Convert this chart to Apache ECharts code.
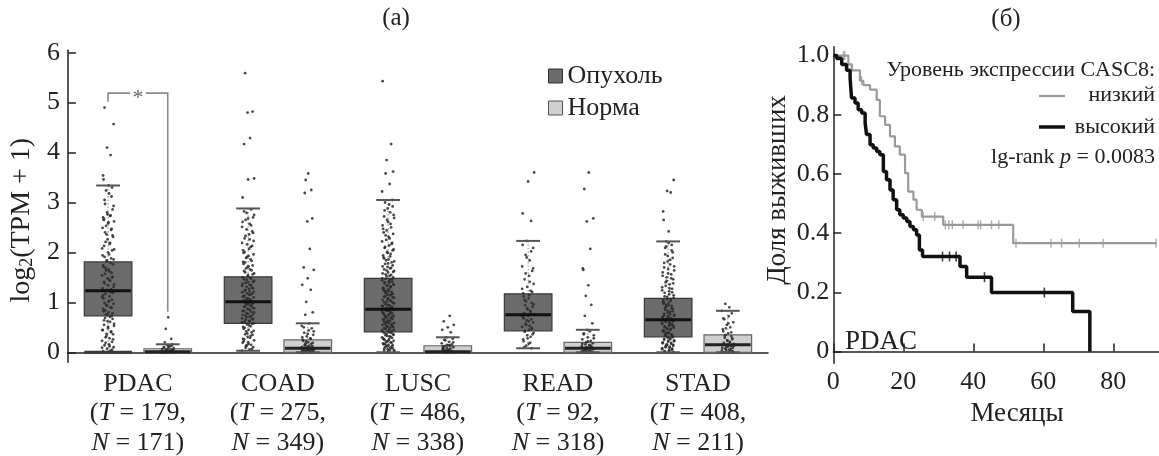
<!DOCTYPE html>
<html><head><meta charset="utf-8">
<script src="https://cdn.jsdelivr.net/npm/echarts@6/dist/echarts.min.js"></script>
<style>html,body{margin:0;padding:0;background:#fff}#c{width:1159px;height:456px}</style>
</head><body><div id="c"></div><script>
const FONT = "'Liberation Serif','Times New Roman',serif";

// ---- panel (a): expression box plots ----
const categories = ['PDAC', 'COAD', 'LUSC', 'READ', 'STAD'];
const tumorCounts = [179, 275, 486, 92, 408];
const normalCounts = [171, 349, 338, 318, 211];
// [lower whisker, Q1, median, Q3, upper whisker]
const tumorBoxes = [
  [0, 0.73, 1.23, 1.81, 3.34],
  [0.03, 0.58, 1.01, 1.51, 2.88],
  [0, 0.41, 0.86, 1.48, 3.05],
  [0.08, 0.43, 0.75, 1.17, 2.23],
  [0, 0.31, 0.65, 1.08, 2.22]
];
const normalBoxes = [
  [0, 0, 0.01, 0.07, 0.16],
  [0, 0, 0.08, 0.25, 0.58],
  [0, 0, 0.01, 0.13, 0.30],
  [0, 0, 0.08, 0.20, 0.45],
  [0, 0, 0.15, 0.35, 0.83]
];
// individual samples
const pdacTumor = [0.02,0.03,0.07,0.1,0.14,0.16,0.21,0.23,0.28,0.3,0.36,0.37,0.42,0.45,0.48,0.53,0.55,0.61,0.62,0.67,0.69,0.73,0.76,0.8,0.82,0.87,0.9,0.93,0.97,0.99,1.03,1.05,1.1,1.12,1.17,1.19,1.23,1.26,1.28,1.34,1.36,1.41,1.43,1.48,1.51,1.57,1.59,1.64,1.66,1.71,1.74,1.79,1.82,1.86,1.91,1.96,2.04,2.08,2.17,2.21,2.31,2.36,2.45,2.49,2.58,2.62,2.67,2.73,2.76,2.86,2.97,3.12,3.24,3.34,3.46,3.54,3.95,4.1,4.57,4.9,
  0.01,0.05,0.09,0.12,0.19,0.26,0.33,0.4,0.44,0.51,0.57,0.64,0.71,0.75,0.78,0.84,0.89,0.95,1.01,1.08,1.14,1.2,1.25,1.31,1.38,1.45,1.5,1.54,1.62,1.69,1.76,1.84,1.88,1.94,2.0,2.06,2.13,2.19,2.26,2.34,2.4,2.47,2.53,2.6,2.65,2.7,2.74,2.8,2.93,3.05,3.18,3.3];
const coadTumor = [0.03,0.05,0.09,0.1,0.14,0.15,0.19,0.2,0.24,0.26,0.29,0.31,0.35,0.36,0.4,0.42,0.45,0.47,0.51,0.52,0.56,0.58,0.61,0.63,0.66,0.68,0.71,0.73,0.76,0.78,0.81,0.83,0.86,0.88,0.91,0.93,0.96,0.98,1.0,1.02,1.06,1.07,1.11,1.12,1.16,1.18,1.21,1.23,1.27,1.29,1.33,1.35,1.39,1.41,1.45,1.47,1.5,1.55,1.58,1.63,1.66,1.71,1.74,1.8,1.83,1.89,1.93,1.99,2.04,2.11,2.16,2.23,2.28,2.36,2.42,2.51,2.57,2.65,2.7,2.79,2.86,3.1,3.46,3.48,4.17,4.29,4.8,4.82,5.59,
  0.06,0.12,0.17,0.22,0.27,0.33,0.38,0.43,0.49,0.54,0.57,0.6,0.62,0.65,0.67,0.7,0.72,0.75,0.77,0.8,0.82,0.85,0.87,0.9,0.92,0.95,0.97,0.99,1.01,1.03,1.05,1.08,1.1,1.13,1.15,1.17,1.2,1.22,1.25,1.28,1.31,1.34,1.37,1.4,1.43,1.46,1.49,1.52,1.56,1.6,1.64,1.68,1.72,1.77,1.81,1.86,1.91,1.96,2.01,2.07,2.13,2.19,2.26,2.33,2.39,2.46,2.54,2.61,2.68,2.75,2.82];
const luscTumor = [0,0.01,0.03,0.05,0.06,0.08,0.1,0.11,0.13,0.15,0.16,0.18,0.2,0.22,0.23,0.25,0.27,0.29,0.3,0.32,0.34,0.36,0.37,0.39,0.41,0.43,0.45,0.48,0.49,0.51,0.53,0.56,0.57,0.6,0.62,0.65,0.66,0.68,0.7,0.73,0.74,0.76,0.78,0.81,0.82,0.84,0.86,0.89,0.9,0.92,0.95,0.98,1.0,1.04,1.06,1.1,1.12,1.16,1.18,1.22,1.24,1.28,1.3,1.34,1.36,1.4,1.42,1.46,1.48,1.53,1.56,1.61,1.64,1.69,1.72,1.78,1.82,1.88,1.92,1.99,2.04,2.11,2.17,2.25,2.31,2.4,2.47,2.57,2.65,2.75,2.84,2.96,3.05,3.22,3.37,3.58,3.62,3.85,4.17,5.43,
  0.02,0.04,0.07,0.09,0.12,0.14,0.17,0.19,0.21,0.24,0.26,0.28,0.31,0.33,0.35,0.38,0.4,0.42,0.44,0.46,0.47,0.5,0.52,0.54,0.55,0.58,0.59,0.61,0.63,0.64,0.67,0.69,0.71,0.72,0.75,0.77,0.79,0.8,0.83,0.85,0.87,0.88,0.91,0.93,0.94,0.96,0.99,1.01,1.02,1.05,1.08,1.09,1.11,1.14,1.15,1.17,1.2,1.21,1.23,1.26,1.27,1.29,1.32,1.33,1.35,1.38,1.39,1.41,1.44,1.45,1.47,1.5,1.52,1.55,1.58,1.6,1.63,1.66,1.68,1.71,1.74,1.77,1.8,1.84,1.86,1.9,1.94,1.97,2.01,2.06,2.09,2.14,2.19,2.22,2.28,2.34,2.37,2.44,2.5,2.54,2.61,2.69,2.72,2.8,2.88,2.92,3.0];
const readTumor = [0.08,0.13,0.17,0.22,0.26,0.31,0.34,0.39,0.41,0.45,0.47,0.51,0.53,0.57,0.6,0.64,0.66,0.71,0.73,0.76,0.78,0.83,0.86,0.91,0.94,0.99,1.02,1.08,1.12,1.18,1.23,1.31,1.37,1.46,1.53,1.63,1.72,1.84,1.95,2.09,2.23,2.63,2.78,3.42,3.6,
  0.1,0.19,0.28,0.36,0.43,0.49,0.55,0.62,0.68,0.74,0.8,0.88,0.96,1.05,1.14,1.21,1.27,1.41,1.58,1.68,1.9,2.02,2.15];
const stadTumor = [0,0.02,0.04,0.07,0.08,0.11,0.12,0.15,0.16,0.19,0.2,0.23,0.24,0.27,0.28,0.31,0.32,0.35,0.36,0.39,0.4,0.43,0.44,0.47,0.48,0.51,0.52,0.55,0.56,0.59,0.6,0.63,0.64,0.67,0.68,0.71,0.72,0.75,0.77,0.81,0.83,0.87,0.89,0.93,0.95,0.99,1.01,1.05,1.07,1.11,1.14,1.19,1.22,1.27,1.3,1.36,1.4,1.46,1.5,1.56,1.6,1.67,1.72,1.79,1.85,1.93,2.0,2.09,2.15,2.22,2.42,2.65,2.82,3.2,3.23,3.45,
  0.01,0.03,0.05,0.06,0.09,0.1,0.13,0.14,0.17,0.18,0.21,0.22,0.25,0.26,0.29,0.3,0.33,0.34,0.37,0.38,0.41,0.42,0.45,0.46,0.49,0.5,0.53,0.54,0.57,0.58,0.61,0.62,0.65,0.66,0.69,0.7,0.73,0.74,0.76,0.79,0.82,0.85,0.88,0.91,0.94,0.97,1.0,1.03,1.06,1.09,1.12,1.16,1.2,1.24,1.28,1.33,1.38,1.43,1.48,1.53,1.58,1.64,1.7,1.76,1.82,1.89,1.96,2.04,2.12,2.19];
const pdacNormal = [0,0,0,0,0,0,0.01,0.01,0.02,0.02,0.03,0.04,0.05,0.06,0.07,0.08,0.1,0.12,0.14,0.16,0.2,0.27,0.47,0.7,0,0,0.01,0.03,0.05,0.09,0.11,0.13];
const coadNormal = [0,0,0,0.01,0.02,0.03,0.04,0.05,0.06,0.08,0.09,0.11,0.12,0.14,0.17,0.18,0.2,0.23,0.25,0.28,0.32,0.35,0.39,0.44,0.48,0.53,0.58,0.75,0.8,1.01,1.25,1.35,1.48,1.65,1.7,2.07,2.62,2.68,3.19,3.25,3.45,3.58,
  0,0,0.01,0.02,0.03,0.04,0.05,0.07,0.1,0.13,0.15,0.19,0.22,0.27,0.3,0.37,0.42,0.5];
const luscNormal = [0,0,0,0,0,0.01,0.01,0.02,0.03,0.04,0.05,0.06,0.07,0.09,0.1,0.12,0.14,0.16,0.18,0.21,0.24,0.27,0.3,0.4,0.45,0.5,0.55,0.62,0.73,0,0,0.01,0.02,0.03,0.05,0.08,0.11,0.13,0.15,0.2,0.25];
const readNormal = [0,0,0,0.01,0.02,0.03,0.05,0.06,0.08,0.09,0.1,0.12,0.14,0.16,0.18,0.2,0.23,0.26,0.3,0.34,0.38,0.42,0.45,0.58,0.73,0.95,1.13,1.34,1.65,1.68,2.07,2.62,2.68,3.27,3.6,0,0.01,0.02,0.04,0.07,0.1,0.13,0.17,0.22,0.28,0.36];
const stadNormal = [0,0,0,0.02,0.03,0.05,0.07,0.09,0.1,0.12,0.14,0.15,0.17,0.19,0.21,0.23,0.26,0.29,0.32,0.35,0.38,0.42,0.46,0.5,0.55,0.6,0.66,0.72,0.78,0.83,0.9,0.97,0.01,0.04,0.06,0.08,0.11,0.13,0.16,0.2,0.24,0.28,0.33,0.4,0.48,0.58,0.68];
const tumorPoints = [pdacTumor, coadTumor, luscTumor, readTumor, stadTumor];
const normalPoints = [pdacNormal, coadNormal, luscNormal, readNormal, stadNormal];
// significance bracket for PDAC: [tumor leg top, bracket level, normal leg bottom]
const sigBracket = [5.02, 5.19, 0.81];
const exprTicks = [0, 1, 2, 3, 4, 5, 6];

// ---- panel (б): Kaplan-Meier ----
const lowT = [0, 4.3, 5.3, 7.6, 8.6, 10.5, 12.4, 13.3, 14.8, 16.2, 17.6, 19.0, 20.5, 21.4, 22.9, 23.8, 25.3, 31.4, 51.4, 92.4];
const lowS = [1.0, 0.97, 0.95, 0.915, 0.90, 0.885, 0.85, 0.795, 0.766, 0.727, 0.693, 0.665, 0.603, 0.54, 0.513, 0.479, 0.456, 0.428, 0.366, 0.366];
const lowCensT = [2.9, 3.3, 8.1, 25.7, 29.0, 32.0, 33.0, 34.0, 37.1, 41.4, 42.1, 45.2, 47.3, 52.2, 62.2, 65.2, 70.3, 77.1, 92.2];
const lowCensS = [1.0, 1.0, 0.915, 0.456, 0.456, 0.428, 0.428, 0.428, 0.428, 0.428, 0.428, 0.428, 0.428, 0.366, 0.366, 0.366, 0.366, 0.366, 0.366];
const highT = [0, 1.0, 2.4, 3.8, 4.8, 5.2, 6.2, 7.1, 8.1, 9.1, 9.5, 10.5, 11.4, 12.4, 13.3, 14.3, 15.2, 16.2, 17.1, 18.1, 19.0, 20.0, 21.0, 21.9, 22.9, 23.8, 24.6, 25.5, 36.2, 38.1, 45.2, 68.4, 73.3];
const highS = [1.0, 0.99, 0.97, 0.95, 0.925, 0.857, 0.84, 0.817, 0.806, 0.772, 0.733, 0.699, 0.688, 0.676, 0.665, 0.608, 0.58, 0.546, 0.513, 0.479, 0.462, 0.451, 0.439, 0.422, 0.411, 0.394, 0.343, 0.321, 0.287, 0.251, 0.199, 0.135, 0.0];
const highCensT = [31.2, 33.2, 35.1, 43.2, 60.3];
const highCensS = [0.321, 0.321, 0.321, 0.251, 0.199];
const kmXTicks = [0, 20, 40, 60, 80];
const kmYTicks = [0, 0.2, 0.4, 0.6, 0.8, 1.0];
const kmYLabels = ['0', '0.2', '0.4', '0.6', '0.8', '1.0'];

// ---- style constants ----
const OFFSET = 0.213, BOXW = 0.34;
const JITTER = [-5, 2.5, -1, 5.5, -3.5, 1, 4, -6, 1.5, -2.5, 5, -1.5, 3, -5.5, 0, 6, -4, 2, -0.5, 4.5, -3, 3.5, -2, 0.5, -4.5];

const chart = echarts.init(document.getElementById('c'), null, {renderer: 'canvas'});

function boxSeries(name, stats, side, fill, stroke) {
  return {
    name, type: 'custom', xAxisIndex: 0, yAxisIndex: 0, z: 2,
    itemStyle: {color: fill, borderColor: stroke},
    data: stats.map((s, i) => [i].concat(s)),
    encode: {x: 0, y: [1, 2, 3, 4, 5]},
    renderItem(params, api) {
      const c = api.value(0);
      const band = api.size([1, 0])[0];
      const xc = api.coord([c, 0])[0] + side * band * OFFSET;
      const w = band * BOXW;
      const Y = k => api.coord([c, api.value(k)])[1];
      const ylo = Y(1), yq1 = Y(2), yq3 = Y(4), yhi = Y(5);
      return {type: 'group', children: [
        {type: 'line', shape: {x1: xc, y1: yhi, x2: xc, y2: yq3}, style: {stroke: '#8a8a8a', lineWidth: 1, lineDash: [1.5, 2]}},
        {type: 'line', shape: {x1: xc, y1: yq1, x2: xc, y2: ylo}, style: {stroke: '#8a8a8a', lineWidth: 1, lineDash: [1.5, 2]}},
        {type: 'rect', shape: {x: xc - w / 2, y: yq3, width: w, height: Math.max(yq1 - yq3, 1.5)}, style: {fill: fill, stroke: stroke, lineWidth: 1.2}}
      ]};
    }
  };
}

function overlaySeries(stats, side, medColor, capColor) {
  return {
    type: 'custom', xAxisIndex: 0, yAxisIndex: 0, z: 4, silent: true,
    data: stats.map((s, i) => [i].concat(s)),
    encode: {x: 0, y: [1, 2, 3, 4, 5]},
    renderItem(params, api) {
      const c = api.value(0);
      const band = api.size([1, 0])[0];
      const xc = api.coord([c, 0])[0] + side * band * OFFSET;
      const w = band * BOXW;
      const Y = k => api.coord([c, api.value(k)])[1];
      const ylo = Y(1), ymd = Y(3), yhi = Y(5);
      const capW = w * 0.5;
      const full = side < 0 && c === 0;
      const loW = full ? w : capW;
      return {type: 'group', children: [
        {type: 'line', shape: {x1: xc - capW / 2, y1: yhi, x2: xc + capW / 2, y2: yhi}, style: {stroke: capColor, lineWidth: 2}},
        {type: 'line', shape: {x1: xc - loW / 2, y1: ylo, x2: xc + loW / 2, y2: ylo}, style: {stroke: full ? '#3a3a3a' : capColor, lineWidth: full ? 3 : 2}},
        {type: 'line', shape: {x1: xc - w / 2 + 1, y1: ymd, x2: xc + w / 2 - 1, y2: ymd}, style: {stroke: medColor, lineWidth: 3}}
      ]};
    }
  };
}

function pointSeries(groups, side) {
  const data = [];
  groups.forEach((vals, c) => vals.forEach((v, i) => data.push([c, v, i])));
  return {
    type: 'custom', xAxisIndex: 0, yAxisIndex: 0, z: 3, silent: true,
    data, encode: {x: 0, y: 1},
    renderItem(params, api) {
      const c = api.value(0), v = api.value(1), i = api.value(2);
      const band = api.size([1, 0])[0];
      const p = api.coord([c, v]);
      return {type: 'circle', shape: {cx: p[0] + side * band * OFFSET + JITTER[(i + c * 7) % JITTER.length], cy: p[1], r: 1.4}, style: {fill: '#2a2a2a', opacity: 0.85}};
    }
  };
}

const bracketSeries = {
  type: 'custom', xAxisIndex: 0, yAxisIndex: 0, z: 5, silent: true,
  data: [[0, sigBracket[0], sigBracket[1], sigBracket[2]]],
  encode: {x: 0, y: [1, 2, 3]},
  renderItem(params, api) {
    const c = api.value(0);
    const band = api.size([1, 0])[0];
    const x0 = api.coord([c, 0])[0];
    const xa = x0 - band * OFFSET, xb = x0 + band * OFFSET;
    const ya = api.coord([c, api.value(1)])[1], yt = api.coord([c, api.value(2)])[1], yb = api.coord([c, api.value(3)])[1];
    const xm = (xa + xb) / 2;
    return {type: 'group', children: [
      {type: 'polyline', shape: {points: [[xa, ya], [xa, yt], [xm - 8, yt]]}, style: {stroke: '#8a8a8a', lineWidth: 1.6, fill: null}},
      {type: 'polyline', shape: {points: [[xm + 8, yt], [xb, yt], [xb, yb]]}, style: {stroke: '#8a8a8a', lineWidth: 1.6, fill: null}},
      {type: 'text', x: xm, y: yt + 5, style: {text: '*', fill: '#666', font: '22px ' + FONT, align: 'center', verticalAlign: 'middle'}}
    ]};
  }
};

const axisLineStyle = {lineStyle: {color: '#222', width: 1.5}};
const tickStyle = {inside: true, length: 8, lineStyle: {color: '#222', width: 1.5}};

const option = {
  animation: false,
  backgroundColor: '#fff',
  grid: [
    {left: 63, top: 50.2, width: 705, height: 312.1},
    {left: 833.3, top: 46.7, width: 325.5, height: 316.6}
  ],
  legend: {
    data: [
      {name: 'Опухоль', itemStyle: {color: '#6b6b6b', borderColor: '#333', borderWidth: 1}},
      {name: 'Норма', itemStyle: {color: '#cfcfcf', borderColor: '#555', borderWidth: 1}}
    ],
    orient: 'vertical', left: 548, top: 63, padding: 0, itemWidth: 14, itemHeight: 14, itemGap: 6,
    icon: 'rect', selectedMode: false,
    textStyle: {fontFamily: FONT, fontSize: 26, color: '#222'}
  },
  xAxis: [
    {
      type: 'category', gridIndex: 0, data: categories,
      axisLine: axisLineStyle,
      axisTick: Object.assign({alignWithLabel: true}, tickStyle),
      axisLabel: {
        margin: 7, interval: 0, color: '#222',
        formatter: (val, idx) => `{n|${val}}\n{p|(}{i|T}{p| = ${tumorCounts[idx]},}\n{i|N}{p| = ${normalCounts[idx]})}`,
        rich: {
          n: {fontFamily: FONT, fontSize: 26, lineHeight: 29.5, color: '#222'},
          p: {fontFamily: FONT, fontSize: 26, lineHeight: 29.5, color: '#222'},
          i: {fontFamily: FONT, fontSize: 26, lineHeight: 29.5, fontStyle: 'italic', color: '#222'}
        }
      },
      splitLine: {show: false}
    },
    {
      type: 'value', gridIndex: 1, min: 0, max: 93,
      axisLine: axisLineStyle,
      axisTick: Object.assign({customValues: kmXTicks}, tickStyle),
      axisLabel: {customValues: kmXTicks, margin: 6, fontFamily: FONT, fontSize: 26, color: '#222'},
      splitLine: {show: false},
      name: 'Месяцы', nameLocation: 'middle', nameGap: 37,
      nameTextStyle: {fontFamily: FONT, fontSize: 27, color: '#222', padding: [0, 0, 0, 42]}
    }
  ],
  yAxis: [
    {
      type: 'value', gridIndex: 0, min: -0.2, max: 6.05,
      axisLine: Object.assign({show: true}, axisLineStyle),
      axisTick: Object.assign({show: true, customValues: exprTicks}, tickStyle),
      axisLabel: {customValues: exprTicks, margin: 8, fontFamily: FONT, fontSize: 26, color: '#222'},
      splitLine: {show: false},
      name: '{a|log}{s|2}{a|(TPM + 1)}', nameLocation: 'middle', nameGap: 17,
      nameTextStyle: {
        padding: [0, 28, 0, 0],
        rich: {
          a: {fontFamily: FONT, fontSize: 28, color: '#222'},
          s: {fontFamily: FONT, fontSize: 18, color: '#222', verticalAlign: 'bottom'}
        }
      }
    },
    {
      type: 'value', gridIndex: 1, min: -0.04, max: 1.03,
      axisLine: Object.assign({show: true}, axisLineStyle),
      axisTick: Object.assign({show: true, customValues: kmYTicks}, tickStyle),
      axisLabel: {customValues: kmYTicks, margin: 4, fontFamily: FONT, fontSize: 26, color: '#222',
        formatter: v => kmYLabels[kmYTicks.findIndex(t => Math.abs(t - v) < 1e-6)]},
      splitLine: {show: false},
      name: 'Доля выживших', nameLocation: 'middle', nameGap: 42,
      nameTextStyle: {fontFamily: FONT, fontSize: 27, color: '#222', padding: [0, 0, 0, 30]}
    }
  ],
  graphic: [
    {type: 'text', x: 396, y: 18, style: {text: '(a)', font: '25px ' + FONT, fill: '#222', align: 'center', verticalAlign: 'middle'}},
    {type: 'text', x: 1006, y: 19, style: {text: '(б)', font: '25px ' + FONT, fill: '#222', align: 'center', verticalAlign: 'middle'}},
    {type: 'text', x: 1155, y: 70, style: {text: 'Уровень экспрессии CASC8:', font: '22px ' + FONT, fill: '#222', align: 'right', verticalAlign: 'middle'}},
    {type: 'line', shape: {x1: 1039, y1: 96, x2: 1065, y2: 96}, style: {stroke: '#9a9a9a', lineWidth: 2.2}},
    {type: 'text', x: 1155, y: 95, style: {text: 'низкий', font: '22px ' + FONT, fill: '#222', align: 'right', verticalAlign: 'middle'}},
    {type: 'line', shape: {x1: 1039, y1: 127, x2: 1065, y2: 127}, style: {stroke: '#111', lineWidth: 3.5}},
    {type: 'text', x: 1155, y: 127, style: {text: 'высокий', font: '22px ' + FONT, fill: '#222', align: 'right', verticalAlign: 'middle'}},
    {type: 'text', x: 1155, y: 157, style: {
      text: '{a|lg-rank }{i|p}{a| = 0.0083}', align: 'right', verticalAlign: 'middle',
      rich: {a: {font: '22px ' + FONT, fill: '#222'}, i: {font: 'italic 22px ' + FONT, fill: '#222'}}
    }},
    {type: 'text', x: 845, y: 342, style: {text: 'PDAC', font: '27px ' + FONT, fill: '#222', align: 'left', verticalAlign: 'middle'}}
  ],
  series: [
    boxSeries('Опухоль', tumorBoxes, -1, '#6b6b6b', '#3a3a3a'),
    boxSeries('Норма', normalBoxes, 1, '#cfcfcf', '#666'),
    pointSeries(tumorPoints, -1),
    pointSeries(normalPoints, 1),
    overlaySeries(tumorBoxes, -1, '#111', '#555'),
    overlaySeries(normalBoxes, 1, '#222', '#555'),
    bracketSeries,
    {
      name: 'низкий', type: 'line', xAxisIndex: 1, yAxisIndex: 1, step: 'end', showSymbol: false, z: 3,
      data: lowT.map((t, i) => [t, lowS[i]]), lineStyle: {color: '#9a9a9a', width: 2.2}, itemStyle: {color: '#9a9a9a'}
    },
    {
      name: 'высокий', type: 'line', xAxisIndex: 1, yAxisIndex: 1, step: 'end', showSymbol: false, z: 4,
      data: highT.map((t, i) => [t, highS[i]]), lineStyle: {color: '#111', width: 3.5}, itemStyle: {color: '#111'}
    },
    {
      type: 'scatter', xAxisIndex: 1, yAxisIndex: 1, symbol: 'rect', symbolSize: [1.4, 9], z: 3,
      data: lowCensT.map((t, i) => [t, lowCensS[i]]), itemStyle: {color: '#9a9a9a'}
    },
    {
      type: 'scatter', xAxisIndex: 1, yAxisIndex: 1, symbol: 'rect', symbolSize: [1.6, 10], z: 4,
      data: highCensT.map((t, i) => [t, highCensS[i]]), itemStyle: {color: '#111'}
    }
  ]
};
chart.setOption(option);
</script></body></html>
